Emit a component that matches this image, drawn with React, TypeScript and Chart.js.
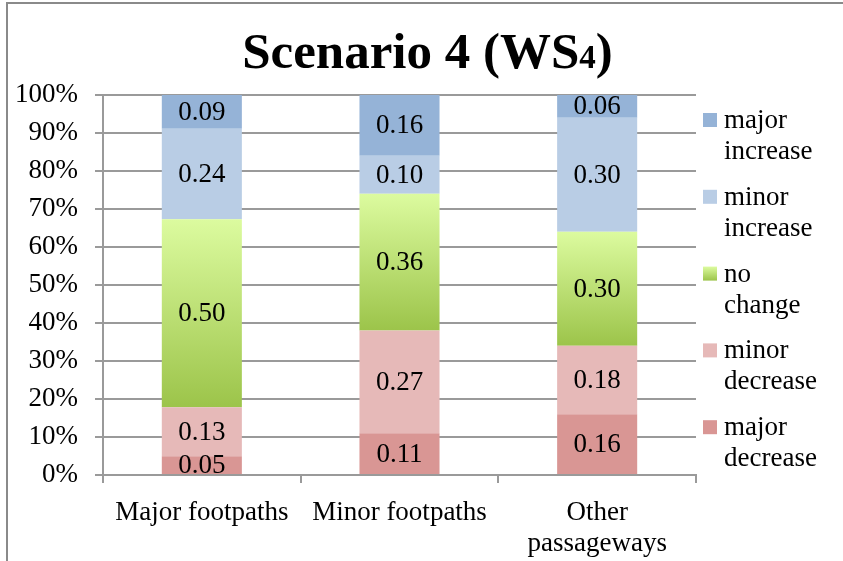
import React, { useEffect, useRef } from "react";
import { Chart, registerables } from "chart.js";

Chart.register(...registerables);

const categories: string[][] = [["Major footpaths"], ["Minor footpaths"], ["Other", "passageways"]];

const majorDecrease = [0.05, 0.11, 0.16];
const minorDecrease = [0.13, 0.27, 0.18];
const noChange = [0.5, 0.36, 0.3];
const minorIncrease = [0.24, 0.1, 0.3];
const majorIncrease = [0.09, 0.16, 0.06];

const seriesLabels: string[][] = [
  ["major", "decrease"],
  ["minor", "decrease"],
  ["no", "change"],
  ["minor", "increase"],
  ["major", "increase"],
];
const seriesValues = [majorDecrease, minorDecrease, noChange, minorIncrease, majorIncrease];
const seriesColors = ["#d99694", "#e6b9b8", "#bde07a", "#b9cde5", "#95b3d7"];

const titleMain = "Scenario 4 (WS";
const titleSub = "4";
const titleEnd = ")";

const FONT = "'Liberation Serif', serif";
const FS = 27;
const GRID = "#9a9a9a";

const totals = categories.map((_, i) => seriesValues.reduce((s, arr) => s + arr[i], 0));
const percents = seriesValues.map((arr) => arr.map((v, i) => (v / totals[i]) * 100));

function greenGradient(ctx: CanvasRenderingContext2D, top: number, bottom: number) {
  const g = ctx.createLinearGradient(0, top, 0, bottom);
  g.addColorStop(0, "#dcfb9f");
  g.addColorStop(1, "#9cc44a");
  return g;
}

const framePlugin = {
  id: "frame",
  beforeDraw(chart: any) {
    const c = chart.ctx as CanvasRenderingContext2D;
    c.save();
    c.fillStyle = "#ffffff";
    c.fillRect(0, 0, chart.width, chart.height);
    c.strokeStyle = "#8a8a8a";
    c.lineWidth = 2;
    c.beginPath();
    c.moveTo(7, chart.height + 5);
    c.lineTo(7, 3);
    c.lineTo(chart.width + 5, 3);
    c.stroke();
    c.restore();
  },
};

const titlePlugin = {
  id: "customTitle",
  afterDraw(chart: any) {
    const c = chart.ctx as CanvasRenderingContext2D;
    c.save();
    const mainFont = "bold 51px 'Liberation Serif', serif";
    const subFont = "bold 33px 'Liberation Serif', serif";
    c.font = mainFont;
    const w1 = c.measureText(titleMain).width;
    const w3 = c.measureText(titleEnd).width;
    c.font = subFont;
    const w2 = c.measureText(titleSub).width;
    const total = w1 + w2 + w3;
    let x = 427.5 - total / 2;
    const y = 68;
    c.fillStyle = "#000";
    c.textBaseline = "alphabetic";
    c.textAlign = "left";
    c.font = mainFont;
    c.fillText(titleMain, x, y);
    x += w1;
    c.font = subFont;
    c.fillText(titleSub, x, y);
    x += w2;
    c.font = mainFont;
    c.fillText(titleEnd, x, y);
    c.restore();
  },
};

const valueLabelPlugin = {
  id: "valueLabels",
  afterDatasetsDraw(chart: any) {
    const c = chart.ctx as CanvasRenderingContext2D;
    c.save();
    c.font = `${FS}px ${FONT}`;
    c.fillStyle = "#000";
    c.textAlign = "center";
    c.textBaseline = "middle";
    chart.data.datasets.forEach((ds: any, di: number) => {
      const meta = chart.getDatasetMeta(di);
      meta.data.forEach((el: any, i: number) => {
        const p = el.getProps(["x", "y", "base"], true);
        const v = seriesValues[di][i];
        c.fillText(v.toFixed(2), p.x, (p.y + p.base) / 2 + 1);
      });
    });
    c.restore();
  },
};

const legendPlugin = {
  id: "customLegend",
  afterDraw(chart: any) {
    const c = chart.ctx as CanvasRenderingContext2D;
    c.save();
    c.font = `${FS}px ${FONT}`;
    c.fillStyle = "#000";
    c.textAlign = "left";
    c.textBaseline = "alphabetic";
    const order = [4, 3, 2, 1, 0];
    const sx = 703;
    const size = 14;
    order.forEach((si, k) => {
      const top = 113 + k * 76.8;
      if (si === 2) {
        c.fillStyle = greenGradient(c, top, top + size);
      } else {
        c.fillStyle = seriesColors[si];
      }
      c.fillRect(sx, top, size, size);
      c.fillStyle = "#000";
      seriesLabels[si].forEach((line, li) => {
        c.fillText(line, 724, top + size + 1 + li * 31);
      });
    });
    c.restore();
  },
};

export default function App() {
  const ref = useRef<HTMLCanvasElement | null>(null);

  useEffect(() => {
    if (!ref.current) return;
    const datasets = seriesValues.map((_, si) => ({
      label: seriesLabels[si].join(" "),
      data: percents[si],
      backgroundColor:
        si === 2
          ? (ctx: any) => {
              const chart = ctx.chart;
              const ys = chart.scales && chart.scales.y;
              if (!ys || ctx.dataIndex == null || !chart.chartArea) return seriesColors[2];
              const i = ctx.dataIndex;
              const base = percents[0][i] + percents[1][i];
              const top = base + percents[2][i];
              return greenGradient(chart.ctx, ys.getPixelForValue(top), ys.getPixelForValue(base));
            }
          : seriesColors[si],
      borderWidth: 0,
      categoryPercentage: 1,
      barPercentage: 0.405,
    }));

    const chart = new Chart(ref.current, {
      type: "bar",
      data: { labels: categories, datasets },
      options: {
        animation: false,
        responsive: false,
        devicePixelRatio: 1,
        layout: { padding: { top: 95, right: 147, left: 0, bottom: 0 } },
        plugins: {
          legend: { display: false },
          title: { display: false },
          tooltip: { enabled: false },
        },
        scales: {
          x: {
            stacked: true,
            grid: {
              display: true,
              drawOnChartArea: false,
              drawTicks: true,
              tickLength: 8,
              offset: true,
              color: GRID,
              lineWidth: 2,
            },
            border: { display: true, color: GRID, width: 2 },
            ticks: {
              color: "#000",
              font: { family: FONT, size: FS, lineHeight: 31 / FS },
              padding: 14,
              maxRotation: 0,
              autoSkip: false,
            },
            afterFit: (scale: any) => {
              scale.height = 86;
            },
          },
          y: {
            stacked: true,
            min: 0,
            max: 100,
            grid: {
              color: GRID,
              lineWidth: 2,
              drawTicks: true,
              tickLength: 8,
            },
            border: { display: true, color: GRID, width: 2 },
            ticks: {
              stepSize: 10,
              color: "#000",
              font: { family: FONT, size: FS },
              padding: 17,
              callback: (v: any) => `${v}%`,
            },
            afterFit: (scale: any) => {
              scale.width = 103;
            },
          },
        },
      },
      plugins: [framePlugin, valueLabelPlugin, legendPlugin, titlePlugin],
    });
    return () => chart.destroy();
  }, []);

  return (
    <div style={{ position: "absolute", left: 0, top: 0, width: 843, height: 561 }}>
      <canvas ref={ref} width={843} height={561} style={{ display: "block", width: 843, height: 561 }} />
    </div>
  );
}
